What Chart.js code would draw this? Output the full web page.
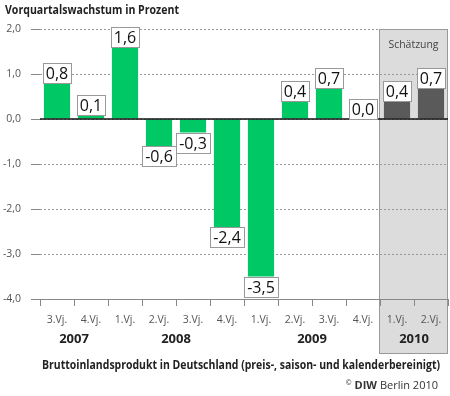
<!DOCTYPE html>
<html>
<head>
<meta charset="utf-8">
<script src="https://cdn.jsdelivr.net/npm/chart.js@4/dist/chart.umd.min.js"></script>
<style>
	body { margin: 0; background: #fff; }
</style>
</head>
<body>
<canvas id="chart" width="450" height="396"></canvas>
<script>

var quarters = ['3.Vj.', '4.Vj.', '1.Vj.', '2.Vj.', '3.Vj.', '4.Vj.', '1.Vj.', '2.Vj.', '3.Vj.', '4.Vj.', '1.Vj.', '2.Vj.'];
var years = ['2007', '2008', '2009', '2010'];
var quartersPerYear = [2, 4, 4, 2];
var growth = [0.8, 0.1, 1.6, -0.6, -0.3, -2.4, -3.5, 0.4, 0.7, 0.0, 0.4, 0.7];
var firstEstimate = 10;

var FONT = '"Open Sans", "DejaVu Sans", sans-serif';
var green = '#00c864';
var darkGrey = '#5a5a5a';

function fmt(v) {
	return Number(v).toFixed(1).replace('.', ',');
}

var barColors = growth.map(function(v, i) {
	return i >= firstEstimate ? darkGrey : green;
});

var decorations = {
	id: 'decorations',

	beforeDraw: function(chart) {
		var ctx = chart.ctx;
		var area = chart.chartArea;
		var x = chart.scales.x;

		ctx.save();
		ctx.fillStyle = '#fff';
		ctx.fillRect(0, 0, chart.width, chart.height);

		// Schätzung box
		var left = Math.round((x.getPixelForValue(firstEstimate - 1) + x.getPixelForValue(firstEstimate)) / 2) - 0.5;
		var right = Math.round(area.right) - 0.5;
		ctx.fillStyle = '#dcdcdc';
		ctx.fillRect(left, area.top, right - left, 353 - area.top);
		ctx.strokeStyle = '#999';
		ctx.lineWidth = 1;
		ctx.strokeRect(left, Math.round(area.top) + 0.5, right - left, 353 - area.top);

		ctx.fillStyle = '#444';
		ctx.font = '11px ' + FONT;
		ctx.textAlign = 'center';
		ctx.textBaseline = 'middle';
		ctx.fillText('Schätzung', (left + right) / 2, 45, 50);
		ctx.restore();
	},

	afterDatasetsDraw: function(chart) {
		var ctx = chart.ctx;
		var area = chart.chartArea;
		var zero = Math.round(chart.scales.y.getPixelForValue(0));

		ctx.save();
		ctx.strokeStyle = '#111';
		ctx.lineWidth = 1.5;
		ctx.beginPath();
		ctx.moveTo(area.left, zero);
		ctx.lineTo(area.right, zero);
		ctx.stroke();

		// value boxes
		var meta = chart.getDatasetMeta(0);
		ctx.font = '16px ' + FONT;
		ctx.textAlign = 'center';
		ctx.textBaseline = 'middle';
		meta.data.forEach(function(bar, i) {
			var v = growth[i];
			var txt = fmt(v);
			var w = Math.round(ctx.measureText(txt).width + 6);
			var h = 20;
			var top = Math.round(v >= 0 ? bar.y - h : bar.y);
			var left = Math.round(bar.x - w / 2) + 0.5;
			ctx.fillStyle = '#fff';
			ctx.fillRect(left, top + 0.5, w, h);
			ctx.strokeStyle = '#999';
			ctx.lineWidth = 1;
			ctx.strokeRect(left, top + 0.5, w, h);
			ctx.fillStyle = '#111';
			ctx.fillText(txt, bar.x, top + h / 2 + 1);
		});
		ctx.restore();
	},

	afterDraw: function(chart) {
		var ctx = chart.ctx;
		var x = chart.scales.x;

		ctx.save();
		ctx.textBaseline = 'middle';

		// title
		ctx.fillStyle = '#222';
		ctx.textAlign = 'left';
		ctx.font = 'bold 12.5px ' + FONT;
		ctx.fillText('Vorquartalswachstum in Prozent', 5, 10, 174);

		// years under the quarters
		ctx.textAlign = 'center';
		ctx.font = 'bold 13px ' + FONT;
		var idx = 0;
		years.forEach(function(y, k) {
			var first = x.getPixelForValue(idx);
			var last = x.getPixelForValue(idx + quartersPerYear[k] - 1);
			ctx.fillText(y, (first + last) / 2, 339);
			idx += quartersPerYear[k];
		});

		// caption
		ctx.font = 'bold 12.5px ' + FONT;
		ctx.fillText('Bruttoinlandsprodukt in Deutschland (preis-, saison- und kalenderbereinigt)', 241, 365, 398);

		// source
		ctx.textAlign = 'left';
		ctx.fillStyle = '#333';
		var parts = [['©', '7px '], ['DIW', 'bold 11px '], ['Berlin 2010', '11px ']];
		var widths = parts.map(function(p) {
			ctx.font = p[1] + FONT;
			return ctx.measureText(p[0]).width;
		});
		var pos = 438 - widths.reduce(function(a, b) { return a + b; }, 0) - 6;
		parts.forEach(function(p, k) {
			ctx.font = p[1] + FONT;
			ctx.fillText(p[0], pos, k == 0 ? 383 : 386);
			pos += widths[k] + 3;
		});
		ctx.restore();
	}
};

var ctx = document.getElementById('chart').getContext('2d');
var chart = new Chart(ctx, {
	type: 'bar',
	data: {
		labels: quarters,
		datasets: [{
			label: 'Vorquartalswachstum',
			data: growth,
			backgroundColor: barColors,
			borderWidth: 0,
			barPercentage: 0.77,
			categoryPercentage: 1
		}]
	},
	options: {
		responsive: false,
		animation: false,
		layout: {
			padding: { top: 29, right: 2, left: 0, bottom: 0 }
		},
		plugins: {
			legend: { display: false },
			tooltip: { enabled: false }
		},
		scales: {
			x: {
				grid: { offset: true, drawOnChartArea: false, drawTicks: true, tickLength: 7, color: '#888', tickColor: '#888' },
				border: { display: true, color: '#888', width: 1 },
				ticks: { color: '#555', font: { family: FONT, size: 10.5 }, padding: 8, maxRotation: 0, autoSkip: false },
				afterFit: function(s) { s.height = 97; }
			},
			y: {
				min: -4,
				max: 2,
				ticks: {
					stepSize: 1,
					color: '#555',
					font: { family: FONT, size: 10.5 },
					padding: 10,
					callback: function(v) { return fmt(v); }
				},
				grid: { color: '#999', tickColor: '#888', tickLength: 9, tickBorderDash: [] },
				border: { display: false, dash: [2, 2] },
				afterFit: function(s) { s.width = 40; }
			}
		}
	},
	plugins: [decorations]
});

</script>
</body>
</html>
